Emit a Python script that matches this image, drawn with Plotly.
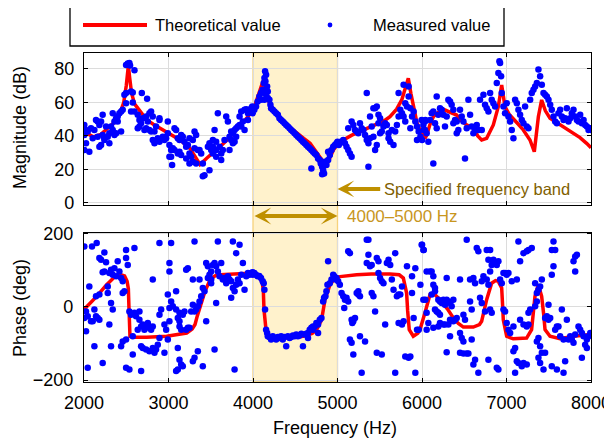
import plotly.graph_objects as go

# ---------------- data ----------------
freq_ticks = [2000, 3000, 4000, 5000, 6000, 7000, 8000]
freq_tick_labels = ["2000", "3000", "4000", "5000", "6000", "7000", "8000"]
mag_ticks = [0, 20, 40, 60, 80]
phase_ticks = [-200, 0, 200]
band = [4000, 5000]

# theoretical magnitude (dB)
mag_theory_f = [2000, 2050, 2110, 2200, 2308, 2380, 2426, 2470, 2500, 2525, 2540, 2563, 2600, 2663, 2742,
                2820, 2900, 3018, 3136, 3254, 3320, 3373, 3452, 3530, 3609, 3690, 3767, 3850, 3925, 4004,
                4044, 4090, 4120, 4150, 4201, 4280, 4359, 4440, 4517, 4600, 4675, 4740, 4793, 4840, 4872,
                4910, 4951, 5000, 5069, 5170, 5266, 5370, 5464, 5550, 5621, 5700, 5760, 5838, 5870, 5897,
                5940, 5976, 6035, 6056, 6095, 6134, 6190, 6252, 6330, 6410, 6470, 6528, 6607, 6660, 6706,
                6765, 6844, 6903, 6943, 6982, 7030, 7080, 7140, 7199, 7278, 7329, 7377, 7416, 7460, 7515,
                7633, 7710, 7791, 7870, 7948, 8000]
mag_theory_v = [42.5, 41, 39.5, 41, 45.5, 49, 53.7, 60, 70, 82, 75, 65.5, 59, 54.5, 49.6,
                47, 44.6, 41.6, 37.6, 32.6, 27, 23, 26.7, 30, 33.6, 37.5, 41.6, 46, 50.6, 55.5,
                61.5, 67, 73, 67, 58.5, 53, 48.5, 45, 41.6, 38.5, 35.6, 31, 27.6, 24, 22.7,
                27, 31.6, 35, 37.6, 40.5, 42.6, 44.5, 46.6, 49, 51.5, 56, 61.5, 74.4, 65, 57.5,
                48, 43.6, 38.6, 40.6, 47, 51.5, 54, 55.9, 54, 52.5, 49, 46.6, 44.6, 40, 37.6,
                38.6, 46.6, 57.5, 70.4, 57.5, 53, 50.6, 47, 43.6, 37.6, 30.6, 51.5, 61.5, 55, 50.6,
                46.6, 44, 41.6, 39, 35.6, 33]

# theoretical phase (deg)
phase_theory_f = [2000, 2050, 2150, 2268, 2367, 2440, 2480, 2510, 2525, 2532, 2537, 2544, 2600, 2742, 2978,
                  3215, 3280, 3314, 3340, 3373, 3432, 3491, 3550, 3609, 3750, 3885, 4004, 4083, 4110, 4122,
                  4130, 4154, 4201, 4359, 4595, 4700, 4753, 4790, 4812, 4852, 4911, 4970, 5030, 5227, 5400,
                  5621, 5730, 5779, 5800, 5818, 5830, 5849, 5897, 5950, 5976, 6000, 6035, 6095, 6134, 6213,
                  6300, 6371, 6430, 6489, 6607, 6680, 6706, 6740, 6765, 6824, 6870, 6903, 6943, 6955, 6962,
                  7002, 7080, 7238, 7297, 7320, 7337, 7377, 7400, 7416, 7440, 7456, 7515, 7633, 7791, 7900,
                  8000]
phase_theory_v = [-7, 5, 29, 61, 83, 88, 85, 70, 50, 0, -62, -80, -83, -83, -80,
                  -71, -60, -48, -25, 2, 43, 74, 85, 88, 89, 90, 93, 79, 65, 47,
                  -7, -62, -82, -85, -80, -72, -62, -45, -35, 20, 61, 79, 83, 88, 90,
                  90, 88, 79, 60, 38, -10, -62, -80, -72, -62, -45, -16, 34, 38, 20,
                  -5, -30, -45, -55, -55, -48, -39, -5, 20, 65, 72, 70, 52, 0, -35,
                  -80, -87, -85, -62, -10, 29, 61, 45, 29, -20, -62, -80, -87, -80, -78,
                  -75]

# measured magnitude (frequency Hz, dB)
mag_meas_low = [
    (2004, 46.6), (2024, 43.6), (2004, 40.6), (2044, 42.6), (2083, 44.6), (2123, 43.6), (2162, 48.6),
    (2182, 46.6), (2202, 48.6), (2142, 49.6), (2024, 35.6), (2004, 31.6), (2063, 30.6), (2103, 38.6),
    (2162, 39.6), (2221, 40.6), (2241, 38.6), (2281, 39.6), (2182, 33.6), (2202, 34.6), (2241, 37.6),
    (2300, 41.6), (2340, 43.6), (2320, 45.6), (2360, 48.6), (2380, 50.6), (2340, 53.6), (2221, 52.6),
    (2261, 45.6), (2300, 35.6), (2399, 51.6), (2419, 53.6), (2439, 54.6), (2458, 55.6), (2439, 42.6),
    (2380, 41.6), (2360, 40.6), (2399, 48.6),
    (2518, 83.2), (2537, 83.6), (2498, 82.4), (2545, 82), (2597, 79.2), (2478, 64.6), (2498, 65.6),
    (2557, 66.6), (2577, 66), (2684, 65.6), (2747, 62.2), (2498, 59.6), (2577, 60), (2557, 54.6),
    (2597, 54.6), (2636, 52.6), (2656, 49.6), (2676, 47.6), (2695, 50.6), (2735, 51.6), (2755, 48.6),
    (2774, 53.6), (2794, 54.6), (2814, 51.6), (2735, 44.6), (2715, 43.6), (2656, 45.6), (2636, 44.6),
    (2774, 43.6), (2794, 42.6), (2834, 42.6), (2893, 50.6), (2893, 49.6), (2853, 45.6),
    (2814, 37.6), (2834, 35.6), (2873, 38.6), (2893, 36.6), (2932, 39.6), (2952, 37.6), (2972, 38.6),
    (2992, 48.6), (2992, 41.6), (3011, 34.6), (3051, 32.6), (3031, 31.6), (3071, 44.6), (3090, 43.6),
    (3110, 38.6), (3130, 37.6), (3150, 40.6), (3169, 39.6), (3071, 31.6), (3110, 29.6), (3130, 30.6),
    (3150, 28.6), (3031, 27.6), (3011, 27.6), (3043, 22.6), (3189, 36.6), (3209, 33.6), (3229, 34.6),
    (3248, 38.6), (3308, 42.6), (3327, 40.6), (3288, 37.6), (3248, 29.6), (3268, 27.6), (3248, 23.6),
    (3288, 24.6), (3327, 23.6), (3347, 31.6), (3308, 32.6), (3209, 26.6),
    (3367, 31.6), (3387, 29.6), (3406, 23.6), (3426, 16.6), (3406, 16), (3485, 19.6), (3466, 33.6),
    (3485, 35.6), (3525, 37.6), (3545, 43.6), (3505, 31.6), (3525, 29.6), (3564, 31.6), (3564, 27.6),
    (3604, 33.6), (3624, 29.6), (3624, 25.6), (3584, 53.6), (3683, 51.6), (3703, 48.6), (3722, 39.6),
    (3742, 37.6), (3762, 35.6), (3722, 31.6), (3742, 42.6), (3762, 41.6), (3782, 43.6), (3801, 44.6),
    (3821, 45.6), (3841, 46.6), (3861, 45.6), (3880, 48.6), (3841, 51.6), (3861, 54.6), (3900, 55.6),
    (3920, 56), (3940, 53.6), (3959, 54.6), (3979, 56.6), (3991, 57.6), (3940, 49.6), (3900, 43.6),
    (3801, 39.6), (3782, 36.6), (3663, 37.6), (3643, 31.6), (3564, 36.6), (3525, 33.6),
]
mag_meas_band = [
    (3976, 54.6), (3996, 53.6), (4016, 55.6), (4036, 57.6), (4055, 60.6), (4075, 63.6), (4095, 65.6),
    (4115, 67.6), (4127, 71.6), (4135, 74.6), (4143, 78.6), (4155, 76.6), (4147, 72.6), (4167, 69.6),
    (4175, 66.6), (4155, 64.6), (4135, 61.6), (4095, 61.6), (4175, 62.6), (4194, 61.6), (4206, 58.6),
    (4214, 56.6), (4234, 55.6), (4254, 54.6), (4274, 53.6), (4294, 52.6), (4313, 50.6), (4333, 49.6),
    (4353, 48.6), (4373, 47.6), (4393, 46.6), (4413, 45.6), (4433, 44.6), (4452, 43.6), (4472, 42.6),
    (4492, 41.6), (4512, 40.6), (4532, 39.6), (4552, 38.6), (4572, 37.6), (4591, 36.6), (4611, 35.6),
    (4631, 34.6), (4651, 33.6), (4671, 32.6), (4691, 31.6), (4710, 30.6), (4730, 29.6), (4750, 28.6),
    (4770, 26.6), (4790, 25.6), (4802, 23.6), (4818, 21.6), (4830, 19.6), (4841, 17.6), (4818, 17.2),
    (4691, 20.6), (4869, 22.6), (4889, 25.6), (4909, 28.6), (4929, 31.6), (4949, 33.6), (4969, 34.6),
    (4988, 35.6), (5000, 36.6), (4889, 30.6), (4849, 24.6),
]
mag_meas_mid = [
    (5016, 34.6), (5040, 36.6), (5068, 37.6), (5088, 35.6), (5107, 33.6), (5127, 31.6), (5147, 29.6),
    (5167, 27.6), (5127, 44.6), (5167, 48.6), (5187, 46.6), (5207, 43.6), (5227, 42.6), (5246, 41.6),
    (5266, 47.6), (5286, 44.6), (5306, 43.6), (5326, 40.6), (5346, 37.6), (5366, 35.6), (5346, 65.6),
    (5366, 21.6), (5385, 51.6), (5405, 45.6), (5425, 56.6), (5445, 56.6), (5465, 57.6), (5485, 52.6),
    (5504, 50.6), (5485, 47.6), (5504, 41.6), (5524, 42.6), (5544, 45.6), (5564, 47.6), (5584, 46.6),
    (5604, 41.6), (5604, 38.6), (5624, 36.6), (5643, 43.6), (5663, 34.6), (5683, 42.6), (5703, 46.6),
    (5723, 51.6), (5723, 65.6), (5743, 55.6), (5763, 53.6), (5782, 70.6), (5802, 59.6), (5822, 57.6),
    (5842, 69.6), (5842, 63.6), (5862, 56.6), (5882, 51.6), (5901, 54.6), (5921, 48.6), (5941, 45.6),
    (5961, 42.6), (5981, 39.6), (6001, 37.6), (6021, 43.6), (6040, 49.6), (5941, 37.6), (5862, 44.6),
    (5782, 51.6), (5802, 48.6), (5425, 39.6), (5445, 31.6), (5465, 34.6), (5385, 38.6),
]
mag_meas_high = [
    (5996, 49.6), (6016, 46.6), (6035, 43.6), (6055, 41.6), (6075, 36.6), (6095, 49.6), (6114, 53.6),
    (6134, 54.6), (6154, 47.6), (6174, 63.6), (6174, 44.6), (6193, 52.6), (6213, 56.6), (6233, 55.6),
    (6253, 52.6), (6272, 45.6), (6292, 51.6), (6312, 61.6), (6332, 60.6), (6351, 58.6), (6371, 55.6),
    (6391, 49.6), (6411, 48.6), (6430, 43.6), (6450, 55.6), (6470, 51.6), (6490, 48.6), (6509, 26.6),
    (6529, 44.6), (6549, 61.6), (6569, 52.6), (6588, 45.6), (6608, 41.6), (6628, 43.6), (6648, 46.6),
    (6667, 43.6), (6687, 61.6), (6707, 43.6), (6727, 64.6), (6746, 58.6), (6766, 56.6), (6786, 54.6),
    (6806, 65.6), (6825, 61.6), (6845, 59.6), (6865, 57.6), (6885, 71.6), (6904, 77.6), (6924, 83.6),
    (6916, 84.6), (6936, 75.6), (6944, 65.6), (6964, 57.6), (6983, 53.6), (7003, 59.6), (7023, 51.6),
    (7043, 48.6), (7062, 43.6), (7082, 38.6), (7102, 61.6), (7122, 59.6), (7141, 55.6), (7161, 52.6),
    (7181, 49.6), (7201, 47.6), (7220, 57.6), (7240, 45.6), (7260, 44.6), (7280, 61.6), (7299, 65.6),
    (7319, 67.6), (7339, 69.6), (7359, 71.6), (7378, 79.6), (7398, 75.6), (7418, 70.6), (7438, 65.6),
    (7457, 64.6), (7477, 63.6), (7497, 61.6), (7517, 58.6), (7536, 55.6), (7556, 51.6), (7576, 48.6),
    (7596, 47.6), (7615, 53.6), (7635, 55.6), (7655, 51.6), (7675, 49.6), (7694, 50.6), (7714, 56.6),
    (7734, 48.6), (7754, 50.6), (7773, 53.6), (7793, 55.6), (7813, 51.6), (7833, 49.6), (7852, 48.6),
    (7872, 52.6), (7892, 47.6), (7912, 49.6), (7931, 46.6), (7951, 45.6), (7971, 43.6), (7991, 44.6),
    (7999, 43.6), (6134, 23.6), (6035, 48.6), (6371, 47.6), (6411, 41.6),
]

# measured phase (frequency Hz, deg)
phase_meas_low = [
    (2004, 165), (2095, 165), (2150, 175), (2241, 149), (2182, 134), (2202, 129), (2261, 122), (2241, 97),
    (2221, 95), (2300, 93), (2320, 102), (2340, 88), (2360, 106), (2380, 84), (2399, 125), (2419, 97),
    (2439, 79), (2458, 70), (2498, 134), (2518, 115), (2478, 43), (2458, 38), (2281, 56), (2281, 38),
    (2182, 34), (2063, 56), (2142, 29), (2024, -12), (2044, -25), (2004, -30), (2083, -39), (2123, -7),
    (2142, -25), (2162, -30), (2182, -35), (2103, -39), (2320, 11), (2340, -7), (2300, -48), (2024, -66),
    (2123, -107), (2320, -107), (2439, -107), (2458, -94), (2498, -89), (2537, -12), (2557, -21),
    (2597, -16), (2616, -25), (2656, -35), (2676, -53), (2695, -48), (2715, -62), (2735, -57),
    (2755, -44), (2774, -53), (2794, -62), (2814, -53), (2656, -12), (2636, -62), (2577, -80),
    (2676, -107), (2695, -112), (2577, -130), (2735, -116), (2774, -121), (2814, -112), (2853, -116),
    (2873, -103), (2893, -85), (2834, -125), (2952, -125), (2992, -89), (2893, -21), (2913, -7),
    (2952, -48), (2972, -62), (3011, -39), (3011, -3), (2992, 34), (3031, 15), (3051, 2), (3090, -7),
    (3130, -16), (3169, -21), (3189, -12), (3110, -30), (3130, -39), (3150, -62), (3011, 120),
    (3011, 97), (2814, 75), (3090, 43), (3130, -53), (3110, -112), (3130, -144), (3150, -157),
    (3110, -171), (3090, -175), (3169, -162), (3209, -62), (3229, -57), (3248, -57), (3268, -12),
    (3288, 6), (3308, -12), (3327, -7), (3347, 2), (3367, 15), (3387, 29), (3406, 52), (3426, 43),
    (3446, -39), (3347, -121), (3308, -139), (3288, -148), (3406, -162), (3209, 102), (3229, 106),
    (3288, 75), (3308, 179), (3367, 75), (3446, 120), (3466, 111), (3485, 88), (3505, 97), (3525, 115),
    (3545, 120), (3564, 111), (3584, 97), (3604, 84), (3624, 120), (3643, 75), (3663, 79), (3683, 65),
    (3703, 84), (3722, 75), (3742, 70), (3762, 52), (3782, 43), (3801, 61), (3821, 75), (3841, 65),
    (3861, 88), (3880, 120), (3900, 47), (3920, 84), (3940, 93), (3959, 88), (3979, 93), (3999, 88),
    (3466, 79), (3505, 75), (3564, 11), (3545, -116), (3505, 65), (3742, 25), (3782, -171), (3584, 179),
    (3762, 179), (3841, 170), (3801, 147), (2893, 175), (3031, 175), (2498, 156), (2597, 161),
    (2044, -166), (2221, -153), (2498, -166), (2537, -171), (2676, -175),
]
phase_meas_band = [
    (3976, 93), (3996, 95), (4016, 93), (4036, 88), (4055, 84), (4075, 85), (4095, 79), (4115, 70),
    (4127, 65), (4135, 47), (4143, -7), (4155, -62), (4167, -71), (4175, -80), (4194, -82), (4214, -85),
    (4234, -80), (4254, -85), (4274, -89), (4294, -82), (4313, -85), (4333, -80), (4353, -89),
    (4373, -82), (4393, -107), (4413, -80), (4433, -85), (4452, -82), (4472, -78), (4492, -80),
    (4512, -75), (4532, -80), (4552, -78), (4572, -73), (4591, -107), (4611, -75), (4631, -73),
    (4651, -71), (4671, -62), (4691, -57), (4710, -62), (4730, -53), (4750, -44), (4770, -48),
    (4790, -35), (4810, -30), (4830, 15), (4841, 25), (4857, 29), (4869, 43), (4889, 125), (4881, 61),
    (4909, 65), (4929, 75), (4949, 88), (4961, 84), (4976, 75), (4988, 79), (4770, -71), (4710, -53),
    (4651, -85), (4214, -89),
]
phase_meas_mid = [
    (5008, 70), (5028, 61), (5048, 38), (5068, 29), (5088, 20), (5107, 25), (5127, 15), (5080, -3),
    (5127, 152), (5147, 147), (5167, -35), (5187, -39), (5175, -44), (5147, -89), (5167, -98),
    (5187, -130), (5207, -30), (5227, 38), (5246, 34), (5266, 29), (5246, 43), (5266, -80),
    (5286, -180), (5326, -94), (5346, 184), (5366, 184), (5366, 143), (5346, 120), (5385, 111),
    (5405, 115), (5405, 38), (5425, 29), (5445, -12), (5465, 134), (5485, 125), (5485, 93), (5504, 79),
    (5524, 70), (5544, 65), (5564, -48), (5465, -125), (5524, -130), (5584, 120), (5604, 129),
    (5624, 115), (5643, 75), (5663, 47), (5683, 147), (5683, -180), (5703, 29), (5723, 34),
    (5723, -44), (5743, 34), (5763, 56), (5763, -48), (5782, -39), (5822, 111), (5802, -135),
    (5842, -139), (5862, -135), (5882, 84), (5882, 38), (5901, -30), (5921, 106), (5921, -180),
    (5941, -62), (5961, -62), (5981, 61), (6001, 170), (6021, 156), (6040, 20),
]
phase_meas_high = [
    (5996, 170), (6016, 156), (6055, 97), (6095, 97), (6114, 97), (6134, 84), (6134, 61), (6154, 52),
    (6154, 43), (6114, 34), (6016, 20), (6055, -16), (6154, -7), (6174, -12), (6193, -16), (6213, -21),
    (6193, 20), (6213, 15), (6233, 11), (6253, 20), (6272, 6), (6292, 20), (6312, 15), (6332, 11),
    (6351, 2), (6371, 20), (6292, 79), (6450, 75), (6569, 75), (6608, 79), (6628, 65), (6707, 70),
    (6727, 84), (6766, 75), (6786, 61), (6806, 97), (6825, 115), (6845, 129), (6865, 120), (6885, 115),
    (6904, 125), (6786, 129), (6766, 156), (6667, 152), (6648, 161), (6529, 184), (6806, 156),
    (6924, 75), (6944, 65), (6687, 25), (6707, 11), (6746, -12), (6806, -7), (6825, -16), (6569, 15),
    (6588, -7), (6490, -21), (6509, -35), (6411, -30), (6391, -35), (6371, -39), (6332, -35),
    (6312, -48), (6272, -48), (6253, -48), (6213, -44), (6193, -53), (6134, -57), (6075, -44),
    (6055, -62), (6332, -80), (6450, -71), (6470, -85), (6490, -94), (6588, -89), (6450, -125),
    (6490, -127), (6529, -127), (6549, -127), (6292, -124), (6628, -144), (6667, -180), (6608, -157),
    (6786, -144), (6885, -166), (6904, -171), (6964, 93), (6983, 93), (7003, 88), (7023, 93),
    (7062, 70), (7122, 75), (6964, -7), (6983, -12), (7003, -44), (7023, -62), (7043, -71),
    (7082, -53), (7102, -112), (7082, -121), (7122, -148), (7141, -153), (7181, -162), (7201, -153),
    (7102, -180), (7240, -157), (7141, 179), (7161, 125), (7201, 147), (7240, 152), (7260, 156),
    (7299, 161), (7339, 65), (7359, 38), (7378, 47), (7398, 56), (7418, 75), (7280, -7), (7260, -16),
    (7260, -48), (7201, -48), (7161, -35), (7240, -53), (7359, 15), (7339, 2), (7378, -85),
    (7359, -94), (7398, -107), (7418, -125), (7378, -139), (7398, -153), (7438, -171), (7457, -125),
    (7457, -30), (7477, -25), (7497, -35), (7517, -30), (7536, 88), (7556, 111), (7536, 156),
    (7556, 179), (7576, 156), (7576, -62), (7596, -53), (7615, -53), (7635, -80), (7655, -7),
    (7675, -89), (7694, -148), (7714, -35), (7734, -89), (7754, -80), (7773, -89), (7793, -98),
    (7813, -75), (7813, 97), (7813, 138), (7793, 125), (7833, 143), (7852, -53), (7872, -62),
    (7892, -71), (7912, -80), (7931, -103), (7951, -89), (7971, -80), (7991, -71), (7951, -112),
    (7892, -139), (7536, -162), (7596, -171), (7675, -180), (7497, 6),
]

# ---------------- assemble ----------------
mag_meas = mag_meas_low + mag_meas_band + mag_meas_mid + mag_meas_high
phase_meas = phase_meas_low + phase_meas_band + phase_meas_mid + phase_meas_high
mag_meas_f = [p[0] for p in mag_meas]
mag_meas_v = [p[1] for p in mag_meas]
phase_meas_f = [p[0] for p in phase_meas]
phase_meas_v = [p[1] for p in phase_meas]

# the page body has an 8 px margin, so the figure is drawn 8 px right/down
# layout positions below are given in window pixels and converted to paper units
OFF = 8
WIN_W, WIN_H = 612, 445
W, H = WIN_W - OFF, WIN_H - OFF
FONT = "Liberation Sans, Arial, sans-serif"
RED = "#FF0000"
BLUE = "#0000FF"
GOLD = "#BF9000"


def px(x):
    return (x - OFF) / W


def py(y):
    return 1 - (y - OFF) / H


x_dom = [px(84), px(591)]
top_dom = [py(205), py(52.7)]
bot_dom = [py(382), py(232.7)]

fig = go.Figure()
fig.add_trace(go.Scatter(x=mag_theory_f, y=mag_theory_v, mode="lines", name="Theoretical value",
                         line=dict(color=RED, width=3.5), xaxis="x", yaxis="y", showlegend=False))
fig.add_trace(go.Scatter(x=mag_meas_f, y=mag_meas_v, mode="markers", name="Measured value",
                         marker=dict(color=BLUE, size=6.5, line=dict(width=0)), xaxis="x", yaxis="y",
                         showlegend=False))
fig.add_trace(go.Scatter(x=phase_theory_f, y=phase_theory_v, mode="lines", name="Theoretical value",
                         line=dict(color=RED, width=3.5), xaxis="x2", yaxis="y2", showlegend=False))
fig.add_trace(go.Scatter(x=phase_meas_f, y=phase_meas_v, mode="markers", name="Measured value",
                         marker=dict(color=BLUE, size=6.5, line=dict(width=0)), xaxis="x2", yaxis="y2",
                         showlegend=False))

axis_common = dict(showline=True, linecolor="black", linewidth=1.3, mirror="allticks",
                   ticks="inside", ticklen=4, tickwidth=1.3, tickcolor="black", automargin=False,
                   showgrid=True, gridcolor="#DCDCDC", gridwidth=1, zeroline=False,
                   tickfont=dict(family=FONT, size=18, color="black"))

fig.update_layout(
    template="none",
    width=W, height=H,
    margin=dict(l=0, r=0, t=0, b=0, pad=0, autoexpand=False),
    paper_bgcolor="white", plot_bgcolor="white",
    font=dict(family=FONT, color="black"),
    xaxis=dict(domain=x_dom, range=[2000, 8000], tickvals=freq_ticks, showticklabels=False,
               anchor="y", **axis_common),
    yaxis=dict(domain=top_dom, range=[-1.2, 89.7], tickvals=mag_ticks, anchor="x",
               ticklabelstandoff=5, **axis_common),
    xaxis2=dict(domain=x_dom, range=[2000, 8000], tickvals=freq_ticks, ticktext=freq_tick_labels,
                anchor="y2", matches="x", ticklabelstandoff=4, **axis_common),
    yaxis2=dict(domain=bot_dom, range=[-205, 203], tickvals=phase_ticks, anchor="x2",
                ticklabelstandoff=6, **axis_common),
)

shapes = [
    # specified frequency band, spanning both panels
    dict(type="rect", xref="x", yref="paper", x0=band[0], x1=band[1], y0=bot_dom[0], y1=top_dom[1],
         fillcolor="#FFF2CC", line=dict(color="#F6D27C", width=1.3), layer="below"),
    # legend frame
    dict(type="rect", xref="paper", yref="paper", x0=px(70), x1=px(504), y0=py(46), y1=py(4),
         fillcolor="white", line=dict(color="black", width=1.3)),
    dict(type="line", xref="paper", yref="paper", x0=px(83), x1=px(147), y0=py(25), y1=py(25),
         line=dict(color=RED, width=4)),
    dict(type="circle", xref="paper", yref="paper", x0=px(327.6), x1=px(332.4), y0=py(27.4), y1=py(22.6),
         fillcolor=BLUE, line=dict(color=BLUE, width=0)),
]

annotations = [
    dict(text="Theoretical value", xref="paper", yref="paper", x=px(153), y=py(25), xanchor="left",
         yanchor="middle", showarrow=False, font=dict(family=FONT, size=16.5, color="black")),
    dict(text="Measured value", xref="paper", yref="paper", x=px(371), y=py(25), xanchor="left",
         yanchor="middle", showarrow=False, font=dict(family=FONT, size=16.5, color="black")),
    dict(text="Magnitude (dB)", xref="paper", yref="paper", x=px(20), y=py(128), textangle=-90,
         xanchor="center", yanchor="middle", showarrow=False, font=dict(family=FONT, size=18)),
    dict(text="Phase (deg)", xref="paper", yref="paper", x=px(20), y=py(308), textangle=-90,
         xanchor="center", yanchor="middle", showarrow=False, font=dict(family=FONT, size=18)),
    dict(text="Frequency (Hz)", xref="paper", yref="paper", x=px(335), y=py(428),
         xanchor="center", yanchor="middle", showarrow=False, font=dict(family=FONT, size=18)),
    # arrow pointing to band edge
    dict(text="", xref="x", yref="y", x=band[1], y=8.4, axref="x", ayref="y", ax=5523, ay=8.4,
         showarrow=True, arrowhead=3, arrowsize=0.7, arrowwidth=4, arrowcolor=GOLD,
         standoff=0, startstandoff=0),
    dict(text="Specified frequency band", xref="x", yref="y", x=5530, y=8.4, xanchor="left",
         yanchor="middle", showarrow=False, font=dict(family=FONT, size=16.5, color="#7F6000")),
    # double arrow spanning the band
    dict(text="", xref="x", yref="paper", x=band[1], y=py(216), axref="x", ayref="pixel",
         ax=band[0], ay=0, showarrow=True, arrowside="end+start", arrowhead=3, startarrowhead=3,
         arrowsize=0.7, startarrowsize=0.7, arrowwidth=4, arrowcolor=GOLD, standoff=0, startstandoff=0),
    dict(text="4000\u20135000 Hz", xref="x", yref="paper", x=5085, y=py(216), xanchor="left",
         yanchor="middle", showarrow=False, font=dict(family=FONT, size=17, color="#C8961E")),
]

fig.update_layout(shapes=shapes, annotations=annotations)
fig.write_html("out.html")
